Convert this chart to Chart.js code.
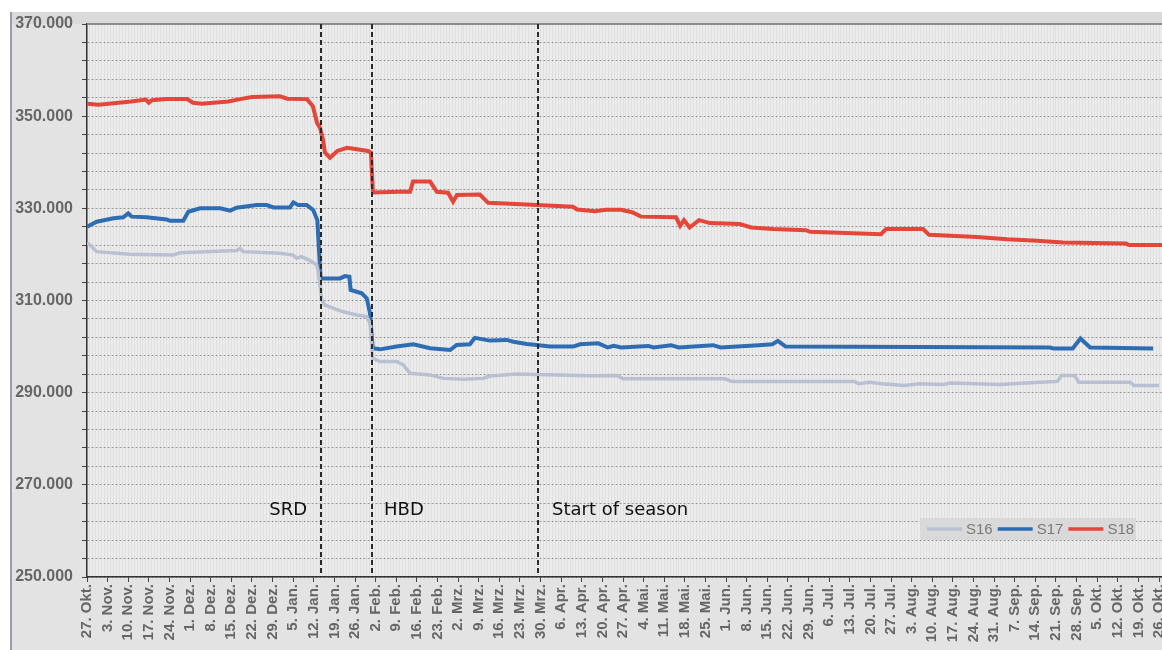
<!DOCTYPE html>
<html><head><meta charset="utf-8">
<script src="https://cdn.jsdelivr.net/npm/chart.js@4"></script>
<style>
html,body{margin:0;padding:0;overflow:hidden;background:#fff}
#wrap{position:relative;width:1162px;height:650px}
</style>
</head><body><div id="wrap"><canvas id="c"></canvas></div>
<script>
// ---- data (x = days since 27 Okt) ----
const weekLabels = ["27. Okt.","3. Nov.","10. Nov.","17. Nov.","24. Nov.","1. Dez.","8. Dez.","15. Dez.","22. Dez.","29. Dez.",
"5. Jan.","12. Jan.","19. Jan.","26. Jan.","2. Feb.","9. Feb.","16. Feb.","23. Feb.","2. Mrz.","9. Mrz.","16. Mrz.","23. Mrz.",
"30. Mrz.","6. Apr.","13. Apr.","20. Apr.","27. Apr.","4. Mai.","11. Mai.","18. Mai.","25. Mai.","1. Jun.","8. Jun.","15. Jun.",
"22. Jun.","29. Jun.","6. Jul.","13. Jul.","20. Jul.","27. Jul.","3. Aug.","10. Aug.","17. Aug.","24. Aug.","31. Aug.","7. Sep.",
"14. Sep.","21. Sep.","28. Sep.","5. Okt.","12. Okt.","19. Okt.","26. Okt."];

const s16Days = [0,1,3.3,14.6,29.3,31.6,50.8,52,53,65.5,70,71.2,72.9,75.7,78,78.6,79.7,80.8,87,91.6,95,96.1,97,99.5,105.1,107.4,109.7,116.5,121,127.8,134.6,136.8,145.9,170.8,180.1,182,216.5,219,260.6,261.9,265.8,269.7,277.5,282.7,290.6,293.2,310,319.1,329.5,330.8,335.4,336.7,354.2,355.5,364];
const s16Values = [322500,322050,320600,320050,319850,320350,320850,321300,320600,320250,319850,319200,319500,318650,317750,315900,310100,309000,307550,306850,306500,305050,297450,296750,296750,296000,294200,293850,293100,292900,293100,293600,294050,293650,293700,293000,293000,292450,292450,291950,292250,291950,291550,291950,291750,292100,291750,292100,292450,293700,293700,292250,292250,291550,291550];

const s17Days = [0,3.3,9,12.3,14,15.2,20.2,27,28.2,32.7,34.4,38.4,45.2,48.6,50.8,57.6,61,63.3,68.9,70.1,71.7,74.6,76.8,78.2,78.9,79.3,80.8,85.9,87.6,89.1,89.5,93.3,95,96.1,97,99.5,105.1,110.8,116.5,123.3,125.5,130,131.7,136.8,142.5,144.8,149.3,152.7,157.2,165.1,167.4,173.6,176.8,178.8,181.4,190.5,192.4,198.3,200.9,212.6,215.1,228.1,232.7,234.6,237.2,326.9,328.2,334.7,337.3,340.6,362];
const s17Values = [326000,327100,327850,328050,328900,328200,328050,327600,327300,327300,329250,330000,330000,329500,330150,330700,330700,330200,330200,331300,330700,330700,329650,327450,319500,314800,314800,314800,315300,315150,312300,311550,310450,307200,299650,299400,300000,300500,299650,299250,300350,300500,301900,301300,301450,301050,300550,300350,300000,300000,300500,300700,299800,300150,299800,300150,299800,300300,299800,300300,299800,300300,300500,301250,300000,299800,299600,299600,301750,299800,299600];

const s18Days = [0,4,15,20,21,22,27,34,36,39,48,52,56,65.5,68,74.7,76.7,78.1,79.1,80.1,80.8,82.5,85,88.3,91.7,95.4,96.4,97.1,106,109.7,110.7,116.5,118.8,122.6,124.3,125.6,133.4,136.2,152.8,165,166.4,172.5,176.2,181.3,185.1,188.1,200,201.4,202.7,204.6,207.8,211.5,221.7,225.5,232.9,244.1,245.5,269.6,271.3,283.9,285.9,302.2,312.4,322.6,331.4,352.8,353.8,365];
const s18Values = [352700,352500,353200,353600,352900,353450,353700,353700,352900,352700,353200,353700,354150,354300,353800,353700,352150,348550,347500,345000,342100,341000,342450,343150,342800,342450,342100,333450,333600,333600,335800,335800,333600,333400,331450,332900,333000,331200,330700,330350,329750,329350,329700,329700,329150,328200,328050,326200,327450,325850,327450,326800,326600,325850,325500,325250,324900,324400,325500,325500,324250,323800,323300,322950,322600,322350,322050,322050];

const seriesNames = ["S16","S17","S18"];
const markerDays = [79.3, 96.8, 153.2];
const markerLabels = ["SRD","HBD","Start of season"];
const markerLabelValue = 264500;
const yMin = 250000, yMax = 370000, yStep = 4000, yLabelStep = 20000;
const xMaxDay = 365;

// ---- helpers ----
function pairs(d, v){ return d.map((x, i) => ({x: x, y: v[i]})); }
function fmt(v){ const t = Math.floor(v/1000), r = Math.round(v % 1000); return t + "." + String(r).padStart(3, "0"); }

const bgPlugin = {
  id: "bg",
  beforeDraw(chart){
    const {ctx, chartArea: a, width, height} = chart;
    ctx.save();
    ctx.fillStyle = "#ffffff"; ctx.fillRect(0, 0, width, height);
    ctx.fillStyle = "#e3e3e3"; ctx.fillRect(12, 12, width - 12, height - 12);
    ctx.fillStyle = "#dadada"; ctx.fillRect(12, 12, width - 12, 12);
    ctx.fillStyle = "#9c9ca8"; ctx.fillRect(10, 12, 2, height - 12);
    ctx.fillStyle = "#ececec"; ctx.fillRect(a.left, a.top, a.right - a.left, a.bottom - a.top);
    ctx.restore();
  }
};

const overlayPlugin = {
  id: "overlay",
  afterDatasetsDraw(chart){
    const {ctx, chartArea: a, scales} = chart;
    const xs = scales.x, ys = scales.y;
    ctx.save();
    // top border
    ctx.strokeStyle = "#8c8c8c"; ctx.lineWidth = 2;
    ctx.beginPath(); ctx.moveTo(a.left, a.top); ctx.lineTo(a.right, a.top); ctx.stroke();
    // dashed markers
    const aligns = ["right","left","left"], offs = [-14, 12, 14];
    ctx.strokeStyle = "#2a2a2a"; ctx.lineWidth = 2; ctx.setLineDash([5, 3]);
    ctx.font = '18px "DejaVu Sans"'; ctx.fillStyle = "#111"; ctx.textBaseline = "middle";
    markerDays.forEach((d, i) => {
      const px = Math.round(xs.getPixelForValue(d));
      ctx.beginPath(); ctx.moveTo(px, a.top); ctx.lineTo(px, a.bottom); ctx.stroke();
      ctx.textAlign = aligns[i];
      ctx.fillText(markerLabels[i], px + offs[i], ys.getPixelForValue(markerLabelValue));
    });
    ctx.setLineDash([]);
    // legend
    const bx = 920, by = 518, bw = 216, bh = 22;
    ctx.fillStyle = "#d9d9d9"; ctx.fillRect(bx, by, bw, bh);
    ctx.font = '15px "Liberation Sans"'; ctx.textAlign = "left"; ctx.textBaseline = "middle";
    let x = bx + 7; const cy = by + bh/2;
    chart.data.datasets.forEach(ds => {
      ctx.strokeStyle = ds.borderColor; ctx.lineWidth = 3.5;
      ctx.beginPath(); ctx.moveTo(x, cy); ctx.lineTo(x + 35, cy); ctx.stroke();
      ctx.fillStyle = "#7a7a7a";
      ctx.fillText(ds.label, x + 39, cy + 1);
      x += 39 + ctx.measureText(ds.label).width + 5;
    });
    ctx.restore();
  }
};

const tickFontX = {family: "Liberation Sans", weight: "bold", size: 15};
const tickFontY = {family: "Liberation Sans", weight: "bold", size: 16};

new Chart(document.getElementById("c"), {
  type: "line",
  data: {
    datasets: [
      {label: seriesNames[0], data: pairs(s16Days, s16Values), borderColor: "#b9c0d1", borderWidth: 3.5, pointRadius: 0, tension: 0},
      {label: seriesNames[1], data: pairs(s17Days, s17Values), borderColor: "#2f6db3", borderWidth: 4, pointRadius: 0, tension: 0},
      {label: seriesNames[2], data: pairs(s18Days, s18Values), borderColor: "#e5463a", borderWidth: 4, pointRadius: 0, tension: 0}
    ]
  },
  options: {
    responsive: true, maintainAspectRatio: false, animation: false,
    layout: {padding: {top: 24, left: 0, right: 0, bottom: 0}},
    plugins: {legend: {display: false}, tooltip: {enabled: false}},
    scales: {
      x: {
        type: "linear", min: 0, max: xMaxDay,
        afterFit(s){ s.height = 73; s.paddingRight = 0; s.paddingLeft = 0; },
        ticks: {
          stepSize: 1, autoSkip: false, maxTicksLimit: 1000, includeBounds: false,
          minRotation: 90, maxRotation: 90, padding: 2, color: "#666", font: tickFontX,
          callback: (v) => (v % 7 === 0 && weekLabels[v/7] !== undefined) ? weekLabels[v/7] : ""
        },
        grid: {
          color: "rgba(0,0,0,0.055)", lineWidth: 1, tickLength: 5,
          tickColor: (c) => (c.tick && c.tick.value % 7 === 0 && c.tick.value <= 364) ? "#444" : "rgba(0,0,0,0)"
        },
        border: {color: "#333", width: 1.5}
      },
      y: {
        min: yMin, max: yMax,
        afterFit(s){ s.width = 87; s.paddingTop = 0; s.paddingBottom = 0; },
        ticks: {
          stepSize: yStep, autoSkip: false, maxTicksLimit: 100, padding: 9, color: "#666", font: tickFontY,
          callback: (v) => ((v - yMin) % yLabelStep === 0) ? fmt(v) : ""
        },
        grid: {color: "rgba(0,0,0,0.34)", lineWidth: 1, tickLength: 5, tickColor: "#444", tickBorderDash: []},
        border: {color: "#333", width: 1.5, dash: [2, 2]}
      }
    }
  },
  plugins: [bgPlugin, overlayPlugin]
});
</script>
</body></html>
